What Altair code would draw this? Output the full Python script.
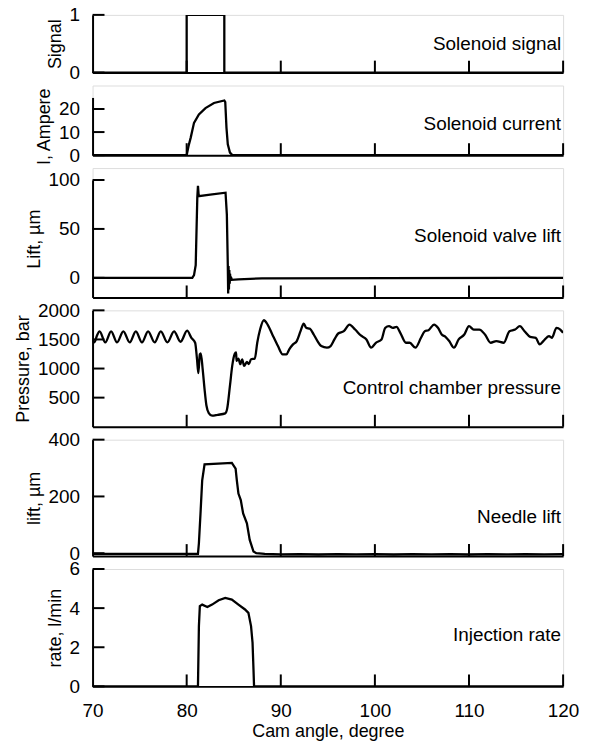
import altair as alt
import pandas as pd

# ---------------- shared x axis ----------------
X_DOMAIN = [70, 120]
X_TICKS = [80, 90, 100, 110, 120]
X_LABELS = [70, 80, 90, 100, 110, 120]
X_TITLE = "Cam angle, degree"

# ---------------- panel data ----------------
signal_x = [70, 80, 80, 84, 84, 120]
signal_y = [0, 0, 1, 1, 0, 0]

current_x = [70, 80.0, 80.2, 80.43, 80.78, 81.3, 82.0, 82.9, 84.0, 84.1, 84.23, 84.37, 84.6, 84.85, 120]
current_y = [0, 0, 4, 7.6, 14, 17.6, 20.4, 22.6, 23.7, 23, 11.8, 4.7, 1.1, 0, 0]

valve_x = [70, 80.6, 80.78, 80.96, 81.13, 81.2, 81.28, 82.5, 84.13, 84.27, 84.37, 84.41, 84.45, 84.49,
           84.53, 84.57, 84.61, 84.65, 84.7, 84.8, 85.5, 88, 120]
valve_y = [0, 0, 2.7, 13, 82, 94, 83.5, 85, 87, 64.6, 13, -16, 12, -12,
           8, -6, 4, -3, 1, -2, -1.5, -0.5, 0]

pressure_x = [70.0, 70.2, 70.45, 70.75, 71.35, 71.97, 72.6, 73.27, 73.95, 74.6, 75.25, 75.9, 76.6, 77.25,
              77.95, 78.66, 79.35, 80.05, 80.5, 80.9, 81.1, 81.24, 81.4, 81.5, 81.7, 81.9, 82.1, 82.35,
              82.7, 83.3, 84.1, 84.3, 84.6, 84.84, 85.1, 85.25, 85.3, 85.5, 85.7, 85.9, 86.1, 86.4, 86.6,
              86.84, 87.24, 87.5, 87.8, 88.2, 88.6, 89.1, 89.7, 90.2, 90.6, 90.9, 91.3, 91.7, 92.1, 92.44,
              92.7, 93.1, 93.5, 93.9, 94.3, 94.9, 95.3, 95.7, 96.1, 96.7, 97.3, 97.9, 98.5, 99.1, 99.6,
              100.1, 100.7, 101.1, 101.5, 101.9, 102.3, 102.7, 103.3, 103.7, 104.3, 104.9, 105.3, 105.7,
              106.3, 106.7, 107.1, 107.5, 107.9, 108.4, 108.9, 109.5, 110.0, 110.5, 111.1, 111.7, 112.3,
              112.9, 113.7, 114.3, 114.9, 115.4, 115.9, 116.5, 117.1, 117.5, 117.9, 118.5, 118.8, 119.3,
              119.7, 120.0]
pressure_y = [1480, 1450, 1560, 1640, 1450, 1640, 1450, 1640, 1450, 1640, 1450, 1640, 1450, 1640,
              1450, 1640, 1460, 1650, 1528, 1443, 1159, 920, 1244, 1261, 989, 648, 364, 234,
              190, 205, 230, 307, 705, 1045, 1250, 1276, 1130, 1170, 1074, 1159, 1045, 1114, 1074,
              1159, 1170, 1443, 1670, 1830, 1756, 1585, 1386, 1244, 1244, 1330, 1415, 1472, 1642, 1773,
              1700, 1682, 1585, 1472, 1386, 1358, 1386, 1500, 1602, 1642, 1756, 1670, 1568, 1500, 1358,
              1443, 1500, 1700, 1727, 1700, 1716, 1614, 1443, 1443, 1358, 1528, 1642, 1659,
              1756, 1700, 1585, 1545, 1472, 1358, 1500, 1585, 1727, 1670, 1670, 1585, 1443,
              1472, 1443, 1642, 1670, 1727, 1642, 1545, 1528, 1415, 1472, 1557, 1528, 1700,
              1670, 1614]

needle_x = [70, 81.2, 81.3, 81.47, 81.65, 81.9, 84.8, 85.2, 85.33, 85.5, 85.75, 86.0, 86.4, 86.7, 87.1,
            87.4, 88.3, 90, 92, 94, 96, 98, 100, 102, 104, 106, 108, 110, 112, 114, 116, 118, 120]
needle_y = [-2, -2, 35, 140, 257, 313, 318, 298, 257, 210, 187, 140, 105, 47, 6,
            0, -2, -4, -3, -4.5, -3, -4, -3.5, -4.5, -3, -4, -3, -4.5, -3, -4, -3, -4, -3.5]

rate_x = [70, 81.2, 81.3, 81.4, 81.65, 82.2, 82.7, 83.4, 84.1, 84.8, 85.5, 86.2, 86.56, 86.84, 87.0,
          87.1, 87.16, 120]
rate_y = [0, 0, 3.08, 4.1, 4.18, 4.06, 4.18, 4.4, 4.52, 4.44, 4.18, 3.93, 3.76, 3.08, 2.23,
          0.87, 0, 0]

# "gap" = extra blank space above a panel (the first panels sit further apart)
PANELS = [
    dict(x=signal_x, y=signal_y, domain=[0, 1], ticks=[0, 1], title="Signal", height=58, gap=0,
         note="Solenoid signal", note_y=0.5, smooth=False),
    dict(x=current_x, y=current_y, domain=[0, 25], ticks=[0, 10, 20], title="I, Ampere", height=58,
         gap=12, note="Solenoid current", note_y=13.6, smooth=False),
    dict(x=valve_x, y=valve_y, domain=[-20, 100], ticks=[0, 50, 100], title="Lift,  µm", height=118,
         gap=12, note="Solenoid valve lift", note_y=43, smooth=False),
    dict(x=pressure_x, y=pressure_y, domain=[0, 2000], ticks=[500, 1000, 1500, 2000],
         title="Pressure, bar", height=117, gap=0, note="Control chamber pressure", note_y=660,
         smooth=True),
    dict(x=needle_x, y=needle_y, domain=[-10, 400], ticks=[0, 200, 400], title="lift,  µm", height=117,
         gap=0, note="Needle lift", note_y=127, smooth=False),
    dict(x=rate_x, y=rate_y, domain=[0, 6], ticks=[0, 2, 4, 6], title="rate, l/min", height=118,
         gap=0, note="Injection rate", note_y=2.6, smooth=False),
]

WIDTH = 473
FONT = "Liberation Sans"
FS = 19
TFS = 18


def make_panel(p, bottom):
    line_df = pd.DataFrame({"x": p["x"], "y": p["y"], "i": list(range(len(p["x"])))})
    total_h = p["height"] + p["gap"]
    xs = alt.Scale(domain=X_DOMAIN, nice=False, zero=False)
    if p["gap"]:
        ys = alt.Scale(domain=p["domain"], nice=False, zero=False, range=[total_h, p["gap"]])
    else:
        ys = alt.Scale(domain=p["domain"], nice=False, zero=False)

    if bottom:
        xaxis = alt.Axis(values=X_LABELS, ticks=False, tickSize=0, grid=False, labelPadding=15,
                         titlePadding=2, domainWidth=2, domainColor="black", labelColor="black",
                         titleColor="black", labelFontSize=FS, titleFontSize=TFS, format="d",
                         titleFontWeight="normal", labelFont=FONT, titleFont=FONT,
                         labelOverlap=False, labelFlush=False)
        xenc = alt.X("x:Q", scale=xs, axis=xaxis, title=X_TITLE)
    else:
        xaxis = alt.Axis(ticks=False, tickSize=0, grid=False, labels=False, domainWidth=2,
                         domainColor="black")
        xenc = alt.X("x:Q", scale=xs, axis=xaxis, title=None)

    yaxis = alt.Axis(values=p["ticks"], ticks=False, tickSize=0, grid=False, labelPadding=13,
                     titlePadding=5, domainWidth=2, domainColor="black", labelColor="black",
                     titleColor="black", labelFontSize=FS, titleFontSize=TFS, format="d",
                     titleFontWeight="normal", labelFont=FONT, titleFont=FONT,
                     labelOverlap=False)
    yenc = alt.Y("y:Q", scale=ys, axis=yaxis, title=p["title"])

    interp = "monotone" if p["smooth"] else "linear"
    line = alt.Chart(line_df).mark_line(
        color="black", strokeWidth=2.3, clip=True, interpolate=interp
    ).encode(x=xenc, y=yenc, order=alt.Order("i:Q"))

    ytick_df = pd.DataFrame({"x": [X_DOMAIN[0]] * len(p["ticks"]), "y": p["ticks"]})
    yticks = alt.Chart(ytick_df).mark_tick(
        orient="horizontal", size=12, thickness=2, xOffset=6, color="black", opacity=1
    ).encode(x=xenc, y=yenc)

    xtick_df = pd.DataFrame({"x": X_TICKS, "y": [p["domain"][0]] * len(X_TICKS)})
    xticks = alt.Chart(xtick_df).mark_tick(
        orient="vertical", size=12, thickness=2, yOffset=-6, color="black", opacity=1
    ).encode(x=xenc, y=yenc)

    note_df = pd.DataFrame({"x": [X_DOMAIN[1]], "y": [p["note_y"]], "t": [p["note"]]})
    note = alt.Chart(note_df).mark_text(
        align="right", baseline="middle", fontSize=FS, font=FONT, color="black", dx=-2
    ).encode(x=xenc, y=yenc, text="t:N")

    return alt.layer(line, yticks, xticks, note).properties(width=WIDTH, height=total_h)


charts = [make_panel(p, k == len(PANELS) - 1) for k, p in enumerate(PANELS)]

chart = alt.vconcat(*charts, spacing=13, bounds="flush").properties(
    padding={"left": 6, "top": -5, "right": 4, "bottom": 0}
).configure_view(strokeWidth=0).configure(background="white")

chart.save("out.html", embed_options={"renderer": "svg", "actions": False})
